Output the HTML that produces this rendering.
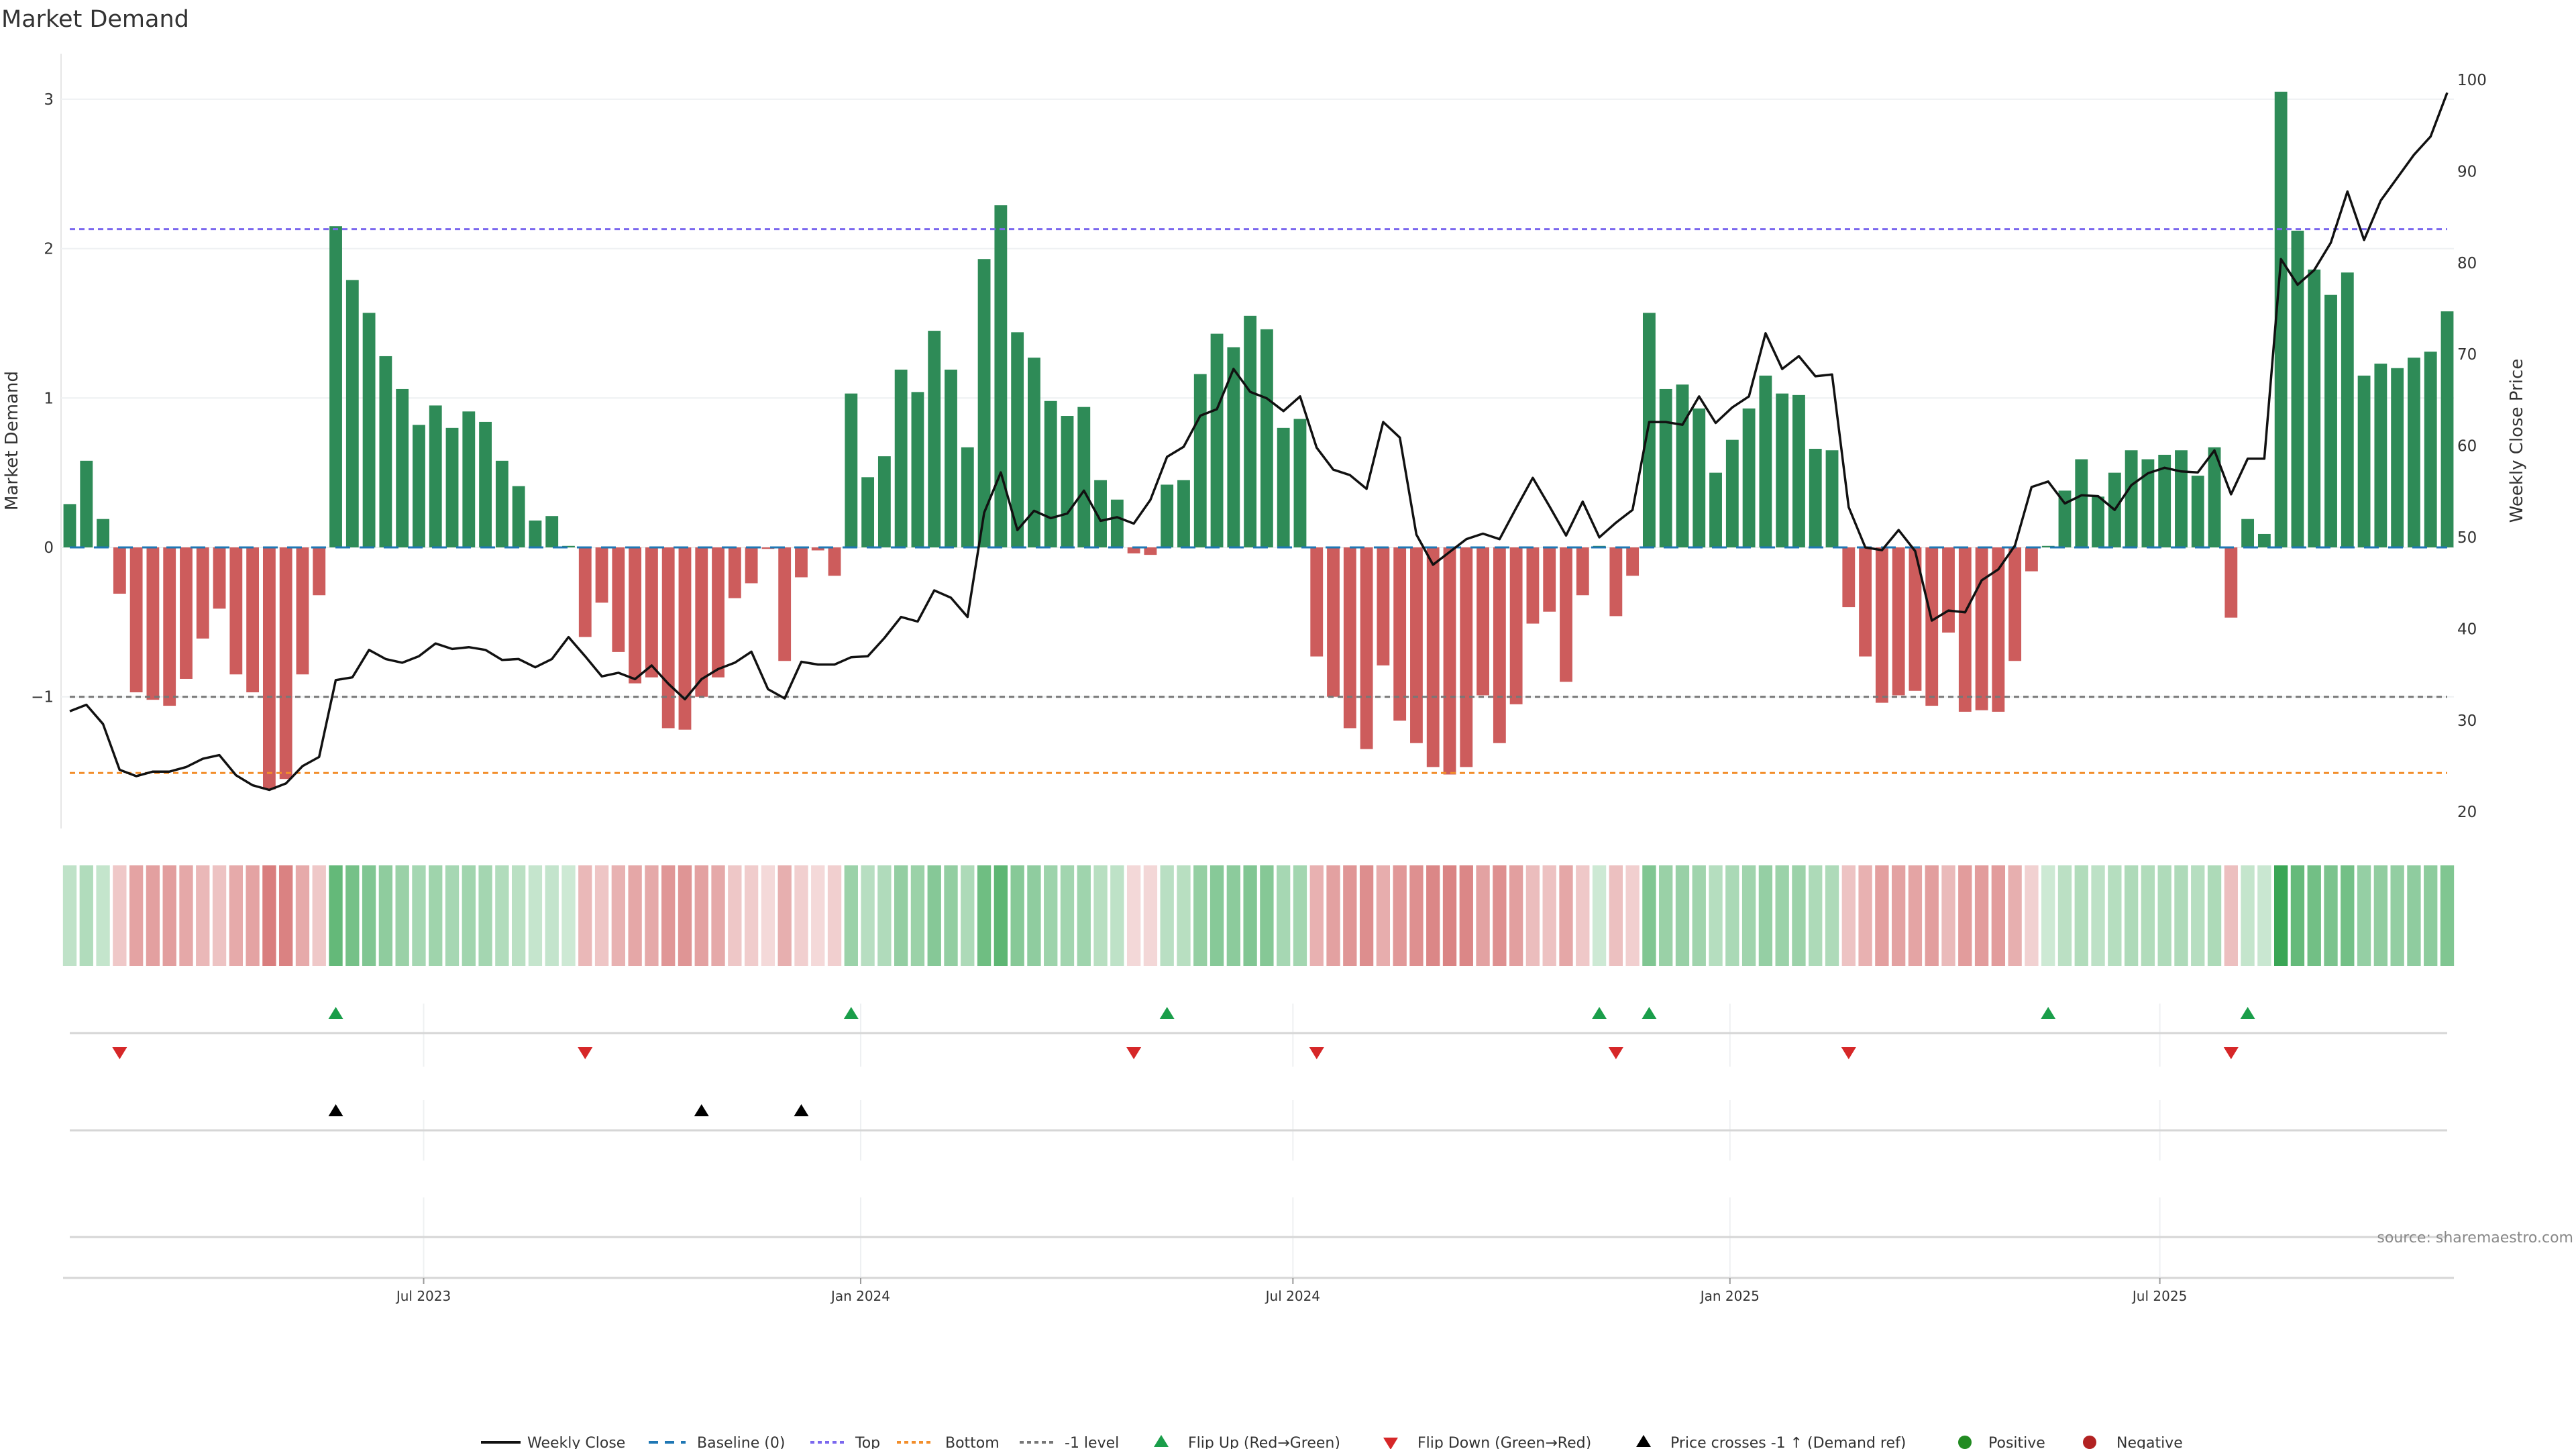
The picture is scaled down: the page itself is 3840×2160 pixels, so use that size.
<!DOCTYPE html>
<html><head><meta charset="utf-8"><style>
html,body{margin:0;padding:0;background:#fff;}
svg{display:block;font-family:"DejaVu Sans","Liberation Sans",sans-serif;}
</style></head><body>
<svg id="chart" width="3840" height="2160" viewBox="0 0 3840 2160" xmlns="http://www.w3.org/2000/svg">
<rect width="3840" height="2160" fill="#fff"/>
<text x="2" y="40" font-size="35" fill="#333">Market Demand</text>
<g id="main"></g>
<g id="strip"></g>
<g id="panels"></g>
<g id="legend"></g>
<text x="3836" y="1852" font-size="22" fill="#888" text-anchor="end">source: sharemaestro.com</text>
</svg>
<script>
const demand = [0.29,0.58,0.19,-0.31,-0.97,-1.02,-1.06,-0.88,-0.61,-0.41,-0.85,-0.97,-1.62,-1.55,-0.85,-0.32,
2.15,1.79,1.57,1.28,1.06,0.82,0.95,0.80,0.91,0.84,0.58,0.41,0.18,0.21,0.01,
-0.60,-0.37,-0.70,-0.91,-0.87,-1.21,-1.22,-1.00,-0.87,-0.34,-0.24,-0.01,-0.76,-0.20,-0.02,-0.19,
1.03,0.47,0.61,1.19,1.04,1.45,1.19,0.67,1.93,2.29,1.44,1.27,0.98,0.88,0.94,0.45,0.32,
-0.04,-0.05,
0.42,0.45,1.16,1.43,1.34,1.55,1.46,0.80,0.86,
-0.73,-1.00,-1.21,-1.35,-0.79,-1.16,-1.31,-1.47,-1.52,-1.47,-0.99,-1.31,-1.05,-0.51,-0.43,-0.90,-0.32,
0.01,
-0.46,-0.19,
1.57,1.06,1.09,0.93,0.50,0.72,0.93,1.15,1.03,1.02,0.66,0.65,
-0.40,-0.73,-1.04,-0.99,-0.96,-1.06,-0.57,-1.10,-1.09,-1.10,-0.76,-0.16,
0.01,0.38,0.59,0.34,0.50,0.65,0.59,0.62,0.65,0.48,0.67,
-0.47,
0.19,0.09,3.05,2.12,1.86,1.69,1.84,1.15,1.23,1.20,1.27,1.31,1.58];
const price = [31.0,31.7,29.6,24.6,23.9,24.4,24.4,24.9,25.8,26.2,24.0,22.9,22.4,23.1,25.0,26.0,34.4,34.7,37.7,36.7,36.3,37.0,38.4,37.8,38.0,37.7,36.6,36.7,35.8,36.7,39.1,37.0,34.8,35.2,34.5,36.0,34.0,32.3,34.5,
35.6,36.3,37.5,33.4,32.4,36.4,36.1,36.1,36.9,37.0,39.0,41.3,40.8,44.2,43.4,41.3,52.7,57.1,50.8,52.9,52.1,52.6,55.1,51.8,52.2,51.5,54.1,58.8,59.9,63.3,64.0,68.4,65.9,65.2,63.8,65.4,59.8,57.4,
56.8,55.3,62.6,60.9,50.3,47.0,48.4,49.8,50.4,49.8,53.2,56.5,53.4,50.2,53.9,50.0,51.6,53.0,62.6,62.6,62.3,65.4,62.5,64.2,65.4,72.3,68.4,69.8,67.6,67.8,53.3,48.9,48.6,50.8,48.5,40.9,42.0,41.8,45.3,
46.5,49.1,55.5,56.1,53.7,54.6,54.5,53.0,55.7,57.0,57.6,57.2,57.1,59.5,54.7,58.6,58.6,80.4,77.6,79.2,82.2,87.8,82.5,86.8,89.3,91.8,93.8,98.6];
const startDate = "2023-02-02";
const leftTicks = [3,2,1,0,-1];
const leftTickLabels = ["3","2","1","0","\u22121"];
const rightTicks = [100,90,80,70,60,50,40,30,20];
const dateTicks = ["2023-07-01","2024-01-01","2024-07-01","2025-01-01","2025-07-01"];
const dateTickLabels = ["Jul 2023","Jan 2024","Jul 2024","Jan 2025","Jul 2025"];
const topLevel = 2.13;
const bottomLevel = -1.51;
const minusLevel = -1;

const NS = "http://www.w3.org/2000/svg";
function mk(tag, attrs, parent){const e=document.createElementNS(NS,tag);for(const k in attrs)e.setAttribute(k,attrs[k]);parent.appendChild(e);return e;}
const X0=104, X1=3648, n=demand.length, step=(X1-X0)/(n-1);
const xi = i => X0 + i*step;
const t0 = Date.parse(startDate);
const xd = d => X0 + ((Date.parse(d)-t0)/(7*864e5))*step;
const yL = v => 816 - v*222.7;
const yR = p => 801 - (p-50)*13.64;
const pR = y => 50 - (y-801)/13.64;

const main=document.getElementById('main');
let sp=mk('line',{x1:91,y1:80,x2:91,y2:1235,stroke:'#e6e6e6','stroke-width':2},main);


leftTicks.forEach((v,k)=>{
  const g=mk('line',{x1:91,x2:3658,y1:yL(v),y2:yL(v),stroke:'#eef0f2','stroke-width':2},main);
  
  
  const t=mk('text',{x:80,y:yL(v)+8,'font-size':23,fill:'#333','text-anchor':'end'},main);
  t.textContent=leftTickLabels[k];
  
  
});
rightTicks.forEach(p=>{
  const t=mk('text',{x:3663,y:yR(p)+8,'font-size':23,fill:'#333'},main);
  t.textContent=String(p);
  
  
});
let yl=mk('text',{x:0,y:0,'font-size':26,fill:'#333','text-anchor':'middle',transform:'translate(26,657) rotate(-90)'},main);
yl.textContent='Market Demand';


let yr=mk('text',{x:0,y:0,'font-size':26,fill:'#333','text-anchor':'middle',transform:'translate(3760,657) rotate(-90)'},main);
yr.textContent='Weekly Close Price';


const bw=step*0.76;
demand.forEach((v,i)=>{
  const y=Math.min(yL(v),yL(0)), h=Math.abs(yL(v)-yL(0));
  const r=mk('rect',{x:xi(i)-bw/2,y:y,width:bw,height:Math.max(h,0.5),fill:v>=0?'#2e8b57':'#cd5c5c'},main);
  
  
});
function hline(v,color,dash,name){
  const l=mk('line',{x1:104,x2:3648,y1:yL(v),y2:yL(v),stroke:color,'stroke-width':3,'stroke-dasharray':dash},main);
  
  
}
hline(0,'#1f77b4','22 14','baseline-zero');
hline(topLevel,'#7b68ee','8 6','top-level-line');
hline(bottomLevel,'#f28e2b','8 6','bottom-level-line');
hline(minusLevel,'#777','8 6','minus-one-level-line');
const pts=price.map((p,i)=>xi(i).toFixed(1)+','+yR(p).toFixed(1)).join(' ');
const pl=mk('polyline',{points:pts,fill:'none',stroke:'#111','stroke-width':3.5,'stroke-linejoin':'round'},main);



const strip=document.getElementById('strip');
function mix(c,a){return 'rgb('+c.map(ch=>Math.round(255-(255-ch)*a)).join(',')+')';}
demand.forEach((v,i)=>{
  const t=Math.min(Math.abs(v)/3,1);
  const col=v>=0?mix([58,166,85],0.25+0.75*t):mix([200,70,70],0.2+0.55*Math.min(Math.abs(v)/1.8,1));
  const r=mk('rect',{x:xi(i)-step*0.41,y:1290,width:step*0.82,height:150,fill:col},strip);
  
  
});

const pan=document.getElementById('panels');
[[1496,1590],[1640,1730],[1785,1905]].forEach(([a,b])=>{
  dateTicks.forEach(d=>{
    const g=mk('line',{x1:xd(d),x2:xd(d),y1:a,y2:b,stroke:'#eef0f2','stroke-width':2},pan);
    
    
  });
});
[1540,1685,1844].forEach(y=>{
  const l=mk('line',{x1:104,x2:3648,y1:y,y2:y,stroke:'#d6d6d6','stroke-width':3},pan);
  
  
});
const ax=mk('line',{x1:94,x2:3658,y1:1905,y2:1905,stroke:'#d6d6d6','stroke-width':3},pan);


dateTicks.forEach((d,k)=>{
  const tk=mk('line',{x1:xd(d),x2:xd(d),y1:1905,y2:1914,stroke:'#999','stroke-width':2},pan);
  
  
  const t=mk('text',{x:xd(d),y:1939,'font-size':20,fill:'#333','text-anchor':'middle'},pan);
  t.textContent=dateTickLabels[k];
  
  
});
function tri(x,y,up,color,parent){
  const p=up?`${x-11},${y+9} ${x+11},${y+9} ${x},${y-9}`:`${x-11},${y-9} ${x+11},${y-9} ${x},${y+9}`;
  return mk('polygon',{points:p,fill:color},parent);
}
const priceRef=pR(yL(minusLevel));
for(let i=1;i<n;i++){
  if(demand[i]>0&&demand[i-1]<=0){const t=tri(xi(i),1510,true,'#1a9e4a',pan);
    
    }
  if(demand[i]<=0&&demand[i-1]>0){const t=tri(xi(i),1570,false,'#d62728',pan);
    
    }
  if(price[i]>priceRef&&price[i-1]<=priceRef){const t=tri(xi(i),1655,true,'#000',pan);
    
    }
}

const lg=document.getElementById('legend');
const LY=2150;
function ltext(x,s){const t=mk('text',{x:x,y:LY+8,'font-size':22,fill:'#333'},lg);t.textContent=s;
  
  }
function lline(x1,x2,c,d,w){const l=mk('line',{x1:x1,x2:x2,y1:LY,y2:LY,stroke:c,'stroke-width':w,'stroke-dasharray':d},lg);
  
  }
lline(717,776,'#111','none',4);ltext(786,'Weekly Close');
lline(967,1022,'#1f77b4','14 10',4);ltext(1039,'Baseline (0)');
lline(1208,1262,'#7b68ee','6 5',4);ltext(1275,'Top');
lline(1337,1391,'#f28e2b','6 5',4);ltext(1409,'Bottom');
lline(1520,1575,'#777','6 5',4);ltext(1587,'-1 level');
let l1=tri(1731,LY-2,true,'#1a9e4a',lg);


ltext(1771,'Flip Up (Red\u2192Green)');
let l2=tri(2073,LY+2,false,'#d62728',lg);


ltext(2113,'Flip Down (Green\u2192Red)');
let l3=tri(2450,LY-2,true,'#000',lg);


ltext(2490,'Price crosses -1 \u2191 (Demand ref)');
let c1=mk('circle',{cx:2929,cy:LY,r:10,fill:'#228b22'},lg);


ltext(2964,'Positive');
let c2=mk('circle',{cx:3115,cy:LY,r:10,fill:'#b22222'},lg);


ltext(3155,'Negative');
</script>
</body></html>
